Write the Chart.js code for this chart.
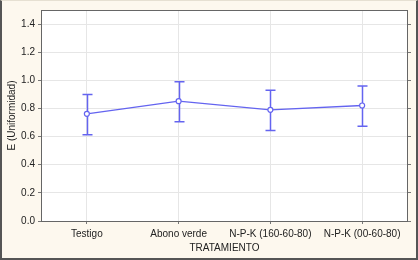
<!DOCTYPE html>
<html>
<head>
<meta charset="utf-8">
<script src="https://cdn.jsdelivr.net/npm/chart.js@4"></script>
<style>
  html, body { margin: 0; padding: 0; background: #fdf8ee; }
  #wrap { position: relative; width: 418px; height: 260px; box-sizing: border-box;
          border-left: 2px solid #555; border-right: 2px solid #555; border-bottom: 2px solid #555; border-top: 1px solid #e6e0d2; }
</style>
</head>
<body>
<div id="wrap"><canvas id="uniformidad" width="414" height="257"></canvas></div>
<script>
/** UNIFORMIDAD POR TRATAMIENTO (media +/- error) **/

var categories = ["Testigo", "Abono verde", "N-P-K (160-60-80)", "N-P-K (00-60-80)"];
var means = [0.762, 0.852, 0.790, 0.821];
var upper = [0.900, 0.990, 0.930, 0.960];
var lower = [0.614, 0.705, 0.643, 0.674];
var yTicks = [0.0, 0.2, 0.4, 0.6, 0.8, 1.0, 1.2, 1.4];

var blue = '#6464f0';

// white plot area + border
var plotBox = {
    id: 'plotBox',
    beforeDraw: function (chart) {
        var a = chart.chartArea, ctx = chart.ctx;
        ctx.save();
        ctx.fillStyle = '#ffffff';
        ctx.fillRect(a.left, a.top, a.right - a.left, a.bottom - a.top);
        ctx.restore();
    },
    afterDatasetsDraw: function (chart) {
        var a = chart.chartArea, ctx = chart.ctx;
        ctx.save();
        ctx.strokeStyle = '#666';
        ctx.lineWidth = 1;
        ctx.strokeRect(a.left + 0.5, a.top + 0.5, a.right - a.left - 1, a.bottom - a.top);
        ctx.restore();
    }
};

// whiskers from lower/upper arrays
var errorBars = {
    id: 'errorBars',
    beforeDatasetsDraw: function (chart) {
        var x = chart.scales.x, y = chart.scales.y, ctx = chart.ctx;
        ctx.save();
        ctx.strokeStyle = blue;
        ctx.lineWidth = 1.5;
        for (var i = 0; i < categories.length; i++) {
            var px = Math.round(x.getPixelForValue(i)) + 0.5;
            var top = y.getPixelForValue(upper[i]);
            var bot = y.getPixelForValue(lower[i]);
            ctx.beginPath();
            ctx.moveTo(px, top); ctx.lineTo(px, bot);
            ctx.moveTo(px - 5, top); ctx.lineTo(px + 5, top);
            ctx.moveTo(px - 5, bot); ctx.lineTo(px + 5, bot);
            ctx.stroke();
        }
        ctx.restore();
    }
};

Chart.defaults.font.family = "'Liberation Sans', Arial, sans-serif";
Chart.defaults.font.size = 10;
Chart.defaults.color = '#222';

var ctx = document.getElementById("uniformidad");

var uniformidad = new Chart(ctx, {
    type: 'line',
    data: {
        labels: categories,
        datasets: [{
            data: means,
            borderColor: blue,
            borderWidth: 1.3,
            backgroundColor: '#ffffff',
            pointBackgroundColor: '#ffffff',
            pointBorderColor: blue,
            pointBorderWidth: 1.2,
            pointRadius: 2.5,
            tension: 0
        }]
    },
    options: {
        responsive: false,
        animation: false,
        layout: { padding: { top: 9, right: 0, left: 0, bottom: 0 } },
        plugins: { legend: { display: false }, tooltip: { enabled: false } },
        scales: {
            x: {
                offset: true,
                grid: { offset: false, color: '#e6e6e6', tickLength: 3, tickColor: '#777', drawBorder: false },
                border: { display: false },
                ticks: { padding: 4, maxRotation: 0, autoSkip: false },
                title: { display: true, text: 'TRATAMIENTO', padding: { top: 2 } },
                afterFit: function (s) { s.height = 37; }
            },
            y: {
                min: 0,
                max: 1.5,
                afterBuildTicks: function (s) {
                    s.ticks = yTicks.map(function (v) { return { value: v }; });
                },
                grid: { color: '#e6e6e6', tickLength: 3, tickColor: '#777' },
                border: { display: false },
                ticks: {
                    padding: 3,
                    callback: function (v) { return v.toFixed(1); }
                },
                title: { display: true, text: 'E (Uniformidad)', padding: { bottom: 2 } },
                afterFit: function (s) { s.width = 39; }
            },
            y2: {
                position: 'right',
                min: 0,
                max: 1.5,
                afterBuildTicks: function (s) {
                    s.ticks = yTicks.map(function (v) { return { value: v }; });
                },
                grid: { drawOnChartArea: false, tickLength: 3, tickColor: '#777' },
                border: { display: false },
                ticks: { display: false },
                afterFit: function (s) { s.width = 8; }
            }
        }
    },
    plugins: [plotBox, errorBars]
});
</script>
</body>
</html>
